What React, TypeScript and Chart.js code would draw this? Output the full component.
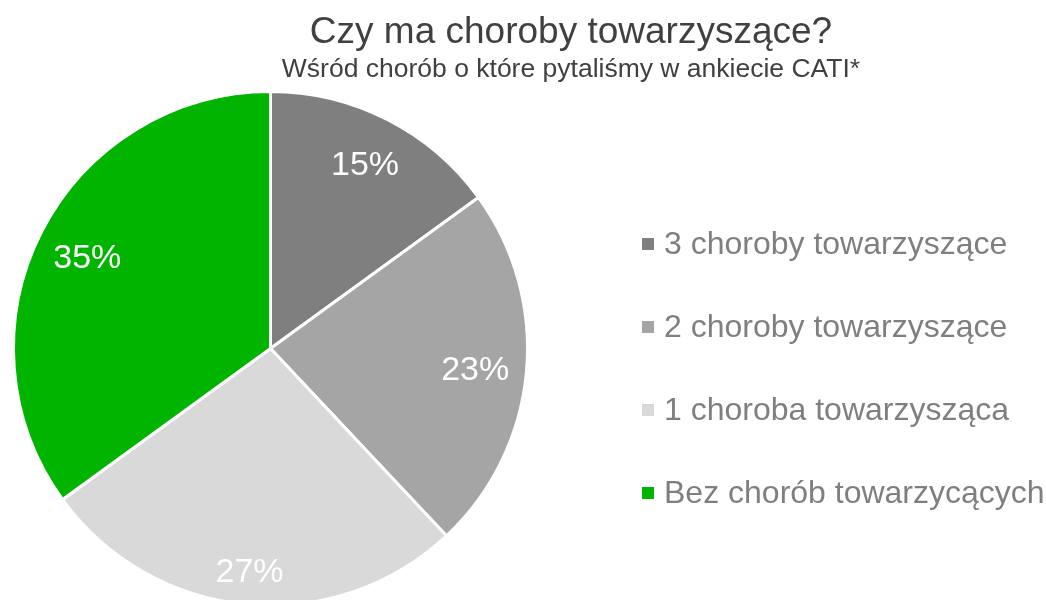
import React, { useEffect, useRef } from "react";
import { Chart, registerables } from "chart.js";

Chart.register(...registerables);

const categories = [
  "3 choroby towarzyszące",
  "2 choroby towarzyszące",
  "1 choroba towarzysząca",
  "Bez chorób towarzycących",
];
const shares = [15, 23, 27, 35];
const sliceColors = ["#7F7F7F", "#A5A5A5", "#D9D9D9", "#00B400"];
const titleText = "Czy ma choroby towarzyszące?";
const subtitleText = "Wśród chorób o które pytaliśmy w ankiecie CATI*";

const FONT = "'Liberation Sans', Arial, sans-serif";

const headerPlugin = {
  id: "headerText",
  afterDraw(chart: any, _args: any, opts: any) {
    const ctx = chart.ctx;
    ctx.save();
    ctx.fillStyle = "#404040";
    ctx.textAlign = "center";
    ctx.textBaseline = "alphabetic";
    ctx.font = `37px ${FONT}`;
    ctx.fillText(opts.title, opts.x, opts.titleBaseline);
    ctx.font = `26.5px ${FONT}`;
    ctx.fillText(opts.subtitle, opts.x, opts.subtitleBaseline);
    ctx.restore();
  },
};

const sliceLabelPlugin = {
  id: "sliceLabels",
  afterDatasetsDraw(chart: any, _args: any, opts: any) {
    const ctx = chart.ctx;
    const meta = chart.getDatasetMeta(0);
    const values = chart.data.datasets[0].data;
    ctx.save();
    ctx.fillStyle = "#FFFFFF";
    ctx.textAlign = "center";
    ctx.textBaseline = "middle";
    ctx.font = `34px ${FONT}`;
    meta.data.forEach((arc: any, i: number) => {
      const p = arc.getProps(["x", "y", "startAngle", "endAngle", "outerRadius"], true);
      const mid = (p.startAngle + p.endAngle) / 2;
      const r = p.outerRadius * (opts.radial[i] ?? 0.8);
      ctx.fillText(
        `${values[i]}%`,
        p.x + Math.cos(mid) * r,
        p.y + Math.sin(mid) * r + opts.dy
      );
    });
    ctx.restore();
  },
};

const sideLegendPlugin = {
  id: "sideLegend",
  afterDraw(chart: any, _args: any, opts: any) {
    const ctx = chart.ctx;
    const labels = chart.data.labels as string[];
    const colors = chart.data.datasets[0].backgroundColor as string[];
    ctx.save();
    ctx.font = `32px ${FONT}`;
    ctx.textAlign = "left";
    ctx.textBaseline = "middle";
    labels.forEach((lab, i) => {
      const cy = opts.top + i * opts.step;
      ctx.fillStyle = colors[i];
      ctx.fillRect(opts.x, cy - opts.box / 2, opts.box, opts.box);
      ctx.fillStyle = opts.color;
      ctx.fillText(lab, opts.x + opts.box + opts.gap, cy + 1);
    });
    ctx.restore();
  },
};

export default function App() {
  const ref = useRef<HTMLCanvasElement | null>(null);

  useEffect(() => {
    if (!ref.current) return;
    const chart = new Chart(ref.current, {
      type: "pie",
      data: {
        labels: categories,
        datasets: [
          {
            data: shares,
            backgroundColor: sliceColors,
            borderColor: "#FFFFFF",
            borderWidth: 3,
          },
        ],
      },
      options: {
        responsive: false,
        animation: false,
        devicePixelRatio: 1,
        layout: { padding: { left: 12, right: 517, top: 90, bottom: 3 } },
        plugins: {
          legend: { display: false },
          tooltip: { enabled: false },
          title: { display: false },
          headerText: {
            title: titleText,
            subtitle: subtitleText,
            x: 571,
            titleBaseline: 43,
            subtitleBaseline: 77,
          },
          sliceLabels: { radial: [0.81, 0.8, 0.865, 0.8], dy: 3 },
          sideLegend: { x: 642, top: 244, step: 83, box: 12, gap: 10, color: "#7F7F7F" },
        } as any,
      },
      plugins: [headerPlugin, sliceLabelPlugin, sideLegendPlugin],
    });
    return () => chart.destroy();
  }, []);

  return (
    <div
      style={{
        position: "absolute",
        left: 0,
        top: 0,
        width: 1046,
        height: 600,
        overflow: "hidden",
        background: "#FFFFFF",
      }}
    >
      <canvas ref={ref} width={1046} height={610} style={{ display: "block" }} />
    </div>
  );
}
